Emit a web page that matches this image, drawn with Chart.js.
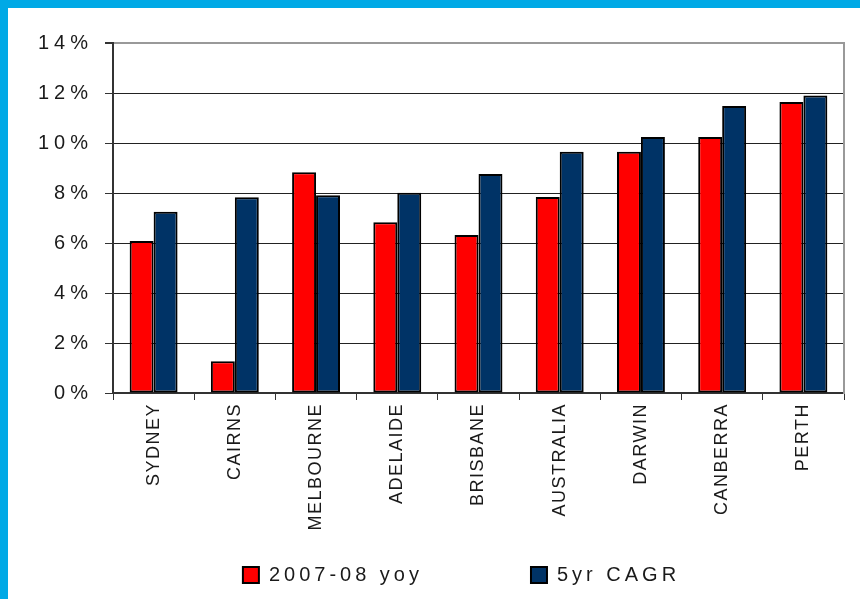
<!DOCTYPE html>
<html>
    <head>
        <meta charset="utf-8">
        <title>City growth</title>
        <script src="https://cdn.jsdelivr.net/npm/chart.js@4.4.1"></script>
        <style>
            html, body {
                margin: 0;
                padding: 0;
                background: #00a9e6;
                width: 860px;
                height: 599px;
                overflow: hidden;
            }
            #container {
                position: absolute;
                left: 8px;
                top: 8px;
                width: 852px;
                height: 591px;
                background: #fff;
            }
        </style>
    </head>
    <body>
        <div id="container">
            <canvas id="vis" width="852" height="591"></canvas>
        </div>
        <script>
            const cities = ['SYDNEY', 'CAIRNS', 'MELBOURNE', 'ADELAIDE', 'BRISBANE', 'AUSTRALIA', 'DARWIN', 'CANBERRA', 'PERTH'];
            const yoy = [6.08, 1.27, 8.83, 6.83, 6.32, 7.84, 9.65, 10.24, 11.64];
            const cagr = [7.25, 7.83, 7.91, 8.01, 8.76, 9.65, 10.24, 11.48, 11.9];
            const seriesNames = ['2007-08 yoy', '5yr CAGR'];
            const seriesColors = ['#ff0000', '#003366'];

            const font = 'Liberation Sans, Arial, sans-serif';

            const chart = new Chart(document.getElementById('vis'), {
                type: 'bar',
                data: {
                    labels: cities,
                    datasets: [yoy, cagr].map((values, i) => ({
                        label: seriesNames[i],
                        data: values,
                        backgroundColor: seriesColors[i],
                        borderColor: '#000',
                        borderWidth: 2,
                        borderSkipped: false,
                        categoryPercentage: 0.59,
                        barPercentage: 1
                    }))
                },
                options: {
                    responsive: false,
                    devicePixelRatio: 1,
                    animation: false,
                    layout: {
                        padding: {left: 71, right: 16, top: 35, bottom: 4}
                    },
                    plugins: {
                        tooltip: {enabled: false},
                        legend: {
                            position: 'bottom',
                            labels: {
                                boxWidth: 16,
                                boxHeight: 16,
                                padding: 108,
                                color: '#1a1a1a',
                                font: {family: font, size: 20}
                            }
                        }
                    },
                    scales: {
                        x: {
                            grid: {
                                offset: true,
                                drawOnChartArea: false,
                                tickLength: 7,
                                tickColor: '#333'
                            },
                            border: {color: '#333', width: 2},
                            ticks: {
                                autoSkip: false,
                                minRotation: 90,
                                maxRotation: 90,
                                padding: 3,
                                color: '#1a1a1a',
                                font: {family: font, size: 18}
                            },
                            afterFit: s => { s.height = 64; }
                        },
                        y: {
                            min: 0,
                            max: 14,
                            ticks: {
                                stepSize: 2,
                                padding: 12,
                                color: '#1a1a1a',
                                font: {family: font, size: 20},
                                callback: v => v + '%'
                            },
                            grid: {
                                color: c => c.tick && c.tick.value === 14 ? '#999' : '#222',
                                lineWidth: c => c.tick && c.tick.value === 14 ? 2 : 1,
                                tickLength: 8,
                                tickColor: '#333'
                            },
                            border: {color: '#333', width: 2},
                            afterFit: s => { s.width = 34; }
                        },
                        y2: {
                            position: 'right',
                            min: 0,
                            max: 14,
                            ticks: {display: false},
                            grid: {drawOnChartArea: false, drawTicks: false},
                            border: {color: '#999', width: 2},
                            afterFit: s => { s.width = 0; }
                        }
                    }
                }
            });

            // the source text is wide-set, so add letter spacing per element
            function withSpacing(obj, name, px) {
                const orig = obj[name];
                obj[name] = function (...args) {
                    const c = chart.ctx;
                    const prev = c.letterSpacing;
                    c.letterSpacing = px;
                    const r = orig.apply(this, args);
                    c.letterSpacing = prev;
                    return r;
                };
            }
            withSpacing(chart.legend, 'fit', '4px');
            withSpacing(chart.legend, 'draw', '4px');
            withSpacing(chart.scales.x, 'drawLabels', '1.5px');
            withSpacing(chart.scales.y, 'drawLabels', '5px');
            // axis boxes are sized tight, so let tick labels run past them
            chart.scales.x._computeLabelArea = () => undefined;
            chart.scales.y._computeLabelArea = () => undefined;
            chart.update();
        </script>
    </body>
</html>
